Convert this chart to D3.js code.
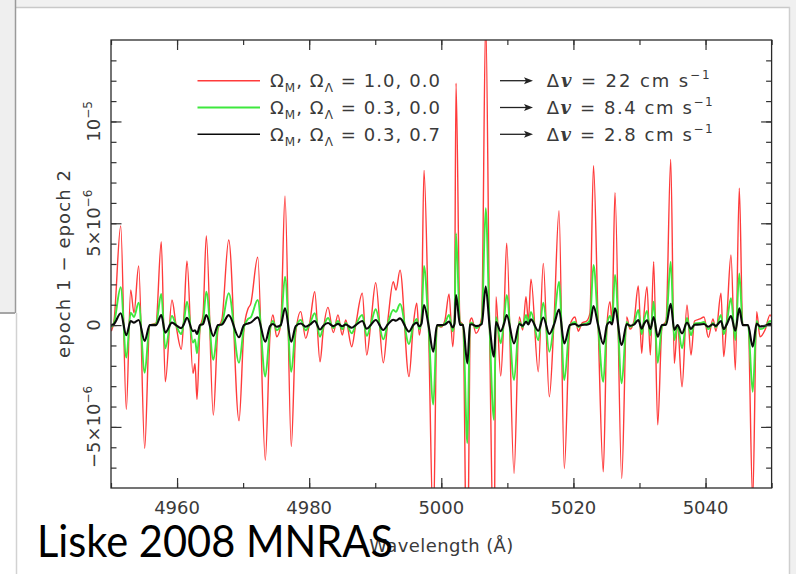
<!DOCTYPE html>
<html><head><meta charset="utf-8">
<script src="https://cdn.jsdelivr.net/npm/d3@7"></script>
<style>html,body{margin:0;padding:0;background:#fff;} svg{display:block;} text{white-space:pre;}</style>
</head><body>
<svg id="c" width="796" height="574"></svg>
<script>
// ---- data (values in units of 1e-6) ----
const wavelength = [4950.05,4950.45,4951.47,4952.32,4952.98,4953.48,4954.19,4955.10,4955.86,4956.81,
4957.61,4958.22,4959.23,4959.84,4960.64,4961.05,4961.50,4962.41,4962.72,4963.02,
4963.47,4963.93,4964.43,4965.49,4966.20,4966.80,4967.82,4969.38,4970.13,4970.74,
4971.15,4972.21,4973.36,4974.07,4974.52,4975.08,4975.69,4976.34,4977.29,4977.96,
4978.72,4979.47,4980.12,4980.84,4981.64,4982.14,4982.85,4983.65,4984.36,4985.01,
4985.53,4986.44,4987.04,4988.04,4988.71,4989.36,4990.07,4991.22,4991.93,4992.73,
4993.14,4993.75,4995.11,4995.76,4996.28,4996.67,4997.00,4997.38,4998.06,4998.79,
4999.35,4999.95,5000.56,5001.17,5001.73,5002.00,5002.23,5002.83,5003.29,5003.94,
5004.35,5004.60,5005.25,5006.12,5006.72,5007.30,5007.98,5008.28,5008.99,5009.49,
5009.90,5011.01,5011.81,5012.32,5012.82,5013.17,5013.58,5014.68,5015.44,5016.35,
5017.06,5017.82,5018.62,5019.48,5020.24,5020.74,5021.30,5022.01,5022.51,5023.04,
5023.72,5024.52,5025.08,5025.54,5025.84,5026.29,5027.31,5028.07,5028.57,5029.17,
5029.82,5030.34,5030.68,5031.14,5031.64,5032.15,5032.76,5033.41,5034.02,5034.73,
5035.27,5035.76,5036.44,5037.19,5037.80,5038.33,5039.16,5039.77,5040.42,5041.13,
5041.58,5042.34,5042.75,5043.25,5043.85,5044.51,5045.11,5045.63,5046.43,5047.14,
5047.74,5048.24,5049.00,5049.76,5050.00];
const redValues = [-0.3,0.2,4.87,-4.14,1.72,0.6,2.9,-6.05,0.0,0.1,
4.1,-2.78,1.23,0.0,-1.19,0.5,3.15,-2.37,-1.9,-3.65,
-0.2,0.5,4.38,-4.42,-0.2,0.3,4.18,-4.7,-0.2,0.8,
1.04,3.33,-6.63,-0.5,0.5,-0.57,0.0,6.34,-5.97,-0.4,
0.66,-0.65,0.2,1.64,-1.8,-0.24,0.87,-0.37,0.5,-0.49,
0.25,-1.06,0.0,1.56,-1.47,0.2,2.08,-1.85,0.3,2.13,
1.72,2.7,-2.53,0.0,1.07,-0.49,0.5,7.6,0.0,-10.0,
0.0,-0.1,0.25,1.53,-1.06,0.5,11.88,0.2,0.0,-15.0,
0.2,0.35,-0.4,0.4,15.0,0.0,-12.0,1.4,-2.5,0.5,
4.02,-7.28,0.4,-0.24,1.4,0.2,2.25,-2.29,3.03,-3.52,
0.2,5.62,-7.04,0.0,0.4,-0.3,0.1,0.2,0.6,7.83,
0.3,-7.2,0.0,1.15,0.2,6.5,-7.53,0.4,-0.2,0.2,
1.92,-1.39,0.5,1.89,-1.47,3.11,-4.9,-0.1,0.2,8.14,
-1.88,0.0,-3.03,0.99,-1.47,0.2,0.3,0.4,-0.6,0.3,
-0.3,1.56,-1.55,0.5,3.44,-2.2,6.72,0.0,0.0,-8.6,
0.66,-0.57,-0.24,0.5,0.4];
const greenValues = [-0.1,0.1,1.86,-1.6,0.61,0.4,1.1,-2.34,0.0,0.05,
1.53,-1.14,0.45,0.0,-0.44,0.2,1.15,-0.86,-0.7,-1.39,
-0.1,0.2,1.64,-1.71,-0.1,0.1,1.56,-1.85,-0.1,0.3,
0.38,1.23,-2.53,-0.2,0.2,-0.25,0.0,2.38,-2.29,-0.15,
0.25,-0.25,0.08,0.58,-0.57,-0.1,0.35,-0.15,0.2,-0.2,
0.1,-0.4,0.0,0.5,-0.53,0.08,0.78,-0.7,0.1,0.74,
0.65,1.04,-0.93,0.0,0.3,-0.2,0.2,2.9,0.0,-3.9,
0.0,-0.05,0.1,0.5,-0.3,0.2,4.5,0.08,0.0,-5.8,
0.08,0.12,-0.15,0.15,5.74,0.0,-4.66,0.4,-0.9,0.2,
1.48,-2.7,0.15,-0.1,0.5,0.1,0.64,-0.75,1.1,-1.31,
0.08,2.13,-2.7,0.0,0.15,-0.1,0.04,0.08,0.25,2.95,
0.1,-2.78,0.0,0.45,0.1,2.46,-2.86,0.15,-0.08,0.08,
0.74,-0.45,0.2,0.7,-0.5,1.15,-1.85,-0.05,0.08,3.11,
-0.74,0.0,-1.14,0.35,-0.5,0.08,0.1,0.15,-0.2,0.1,
-0.1,0.5,-0.45,0.2,1.32,-0.74,2.54,0.0,0.0,-3.27,
0.2,-0.2,-0.1,0.2,0.15];
const blackValues = [0.0,0.05,0.58,-0.5,0.2,0.12,0.25,-0.78,0.0,0.0,
0.49,-0.37,0.12,0.0,-0.15,0.05,0.36,-0.3,-0.25,-0.44,
0.0,0.05,0.49,-0.54,0.0,0.03,0.49,-0.6,0.0,0.08,
0.12,0.38,-0.82,-0.05,0.05,-0.08,0.0,0.82,-0.82,-0.05,
0.08,-0.08,0.02,0.2,-0.22,-0.03,0.1,-0.05,0.06,-0.06,
0.03,-0.13,0.0,0.2,-0.18,0.02,0.25,-0.24,0.04,0.26,
0.22,0.33,-0.32,0.0,0.12,-0.06,0.06,0.99,0.0,-1.31,
0.0,0.0,0.03,0.18,-0.12,0.06,1.48,0.02,0.0,-1.88,
0.02,0.04,-0.05,0.05,1.89,0.0,-1.55,0.15,-0.3,0.06,
0.49,-0.9,0.05,-0.03,0.17,0.03,0.28,-0.28,0.37,-0.43,
0.02,0.76,-0.9,0.0,0.05,-0.04,0.01,0.02,0.07,0.93,
0.03,-0.93,0.0,0.15,0.03,0.82,-0.98,0.05,-0.03,0.02,
0.25,-0.18,0.06,0.24,-0.19,0.4,-0.57,0.0,0.02,1.04,
-0.24,0.0,-0.41,0.13,-0.19,0.02,0.03,0.05,-0.08,0.04,
-0.04,0.2,-0.2,0.06,0.45,-0.28,0.82,0.0,0.0,-1.06,
0.08,-0.07,-0.03,0.06,0.05];

const xTickValues = [4960, 4980, 5000, 5020, 5040];
const yTickValues = [-5, 0, 5, 10];
const yTickBase = ["\u22125\u00d710", "0", "5\u00d710", "10"];
const yTickSup = ["\u22126", "", "\u22126", "\u22125"];
const omegaM = ["1.0", "0.3", "0.3"];
const omegaL = ["0.0", "0.0", "0.7"];
const deltaV = ["22", "8.4", "2.8"];
const seriesColors = ["#ff3b3b", "#3ee83e", "#0a0a0a"];

// ---- drawing ----
const svg = d3.select("#c");
const W = 796, H = 574;
const L = 111, R = 771.6, T = 40, B = 488;
const x = d3.scaleLinear().domain([4950, 5050]).range([L, R]);
const y = d3.scaleLinear().domain([-8, 14]).range([B, T]);

svg.append("rect").attr("width", W).attr("height", H).attr("fill", "#fff");

// window frame decorations
svg.append("rect").attr("x", 0).attr("y", 0).attr("width", W).attr("height", 7).attr("fill", "#f1f1f1");
svg.append("rect").attr("x", 0).attr("y", 0).attr("width", 15).attr("height", 313).attr("fill", "#efefef");
svg.append("rect").attr("x", 790).attr("y", 0).attr("width", 6).attr("height", H).attr("fill", "#f0f0f0");
svg.append("line").attr("x1", 15).attr("x2", 790).attr("y1", 7.5).attr("y2", 7.5).attr("stroke", "#c9c9c9").attr("stroke-width", 1.5);
svg.append("line").attr("x1", 15.5).attr("x2", 15.5).attr("y1", 0).attr("y2", 313).attr("stroke", "#9a9a9a").attr("stroke-width", 1.5);
svg.append("line").attr("x1", 16.5).attr("x2", 16.5).attr("y1", 313).attr("y2", H).attr("stroke", "#d2d2d2").attr("stroke-width", 1.5);
svg.append("line").attr("x1", 0).attr("x2", 15).attr("y1", 313).attr("y2", 313).attr("stroke", "#a5a5a5").attr("stroke-width", 2);
svg.append("line").attr("x1", 789.5).attr("x2", 789.5).attr("y1", 7).attr("y2", H).attr("stroke", "#cfcfcf").attr("stroke-width", 1.5);

// clip
svg.append("clipPath").attr("id", "clip").append("rect")
  .attr("x", L).attr("y", T).attr("width", R - L).attr("height", B - T);

const seriesList = [redValues, greenValues, blackValues];
const widths = [1.4, 1.9, 2.1];
const line = d3.line().x((d, i) => x(wavelength[i])).y(d => y(d)).curve(d3.curveMonotoneX);
const g = svg.append("g").attr("clip-path", "url(#clip)");
seriesList.forEach((vals, k) => {
  g.append("path").attr("d", line(vals)).attr("fill", "none")
    .attr("stroke", seriesColors[k]).attr("stroke-width", widths[k]).attr("stroke-linejoin", "round");
});

// axes (inward ticks on all sides)
const tickColor = "#333";
function styleAxis(sel) {
  sel.select(".domain").remove();
  sel.selectAll(".tick line").attr("stroke", tickColor).attr("stroke-width", 1.2);
}
const xMinor = d3.range(4950, 5051, 10);
const xMajor = xTickValues;
const yMinor = d3.range(-7, 14, 1);
const yMajor = [-5, 0, 5, 10];
svg.append("g").attr("transform", `translate(0,${B})`).call(d3.axisBottom(x).tickValues(xMinor).tickSize(-5).tickFormat("")).call(styleAxis);
svg.append("g").attr("transform", `translate(0,${B})`).call(d3.axisBottom(x).tickValues(xMajor).tickSize(-10).tickFormat("")).call(styleAxis);
svg.append("g").attr("transform", `translate(0,${T})`).call(d3.axisTop(x).tickValues(xMinor).tickSize(-5).tickFormat("")).call(styleAxis);
svg.append("g").attr("transform", `translate(0,${T})`).call(d3.axisTop(x).tickValues(xMajor).tickSize(-10).tickFormat("")).call(styleAxis);
svg.append("g").attr("transform", `translate(${L},0)`).call(d3.axisLeft(y).tickValues(yMinor).tickSize(-5.5).tickFormat("")).call(styleAxis);
svg.append("g").attr("transform", `translate(${L},0)`).call(d3.axisLeft(y).tickValues(yMajor).tickSize(-10.5).tickFormat("")).call(styleAxis);
svg.append("g").attr("transform", `translate(${R},0)`).call(d3.axisRight(y).tickValues(yMinor).tickSize(-5.5).tickFormat("")).call(styleAxis);
svg.append("g").attr("transform", `translate(${R},0)`).call(d3.axisRight(y).tickValues(yMajor).tickSize(-10.5).tickFormat("")).call(styleAxis);

svg.append("rect").attr("x", L).attr("y", T).attr("width", R - L).attr("height", B - T)
  .attr("fill", "none").attr("stroke", "#2a2a2a").attr("stroke-width", 1.3);

const FONT = "DejaVu Sans";
const txtColor = "#3a3a3a";
// x tick labels
svg.selectAll("text.xt").data(xTickValues).enter().append("text").attr("class", "xt")
  .attr("x", d => x(d)).attr("y", 513.5).attr("text-anchor", "middle")
  .attr("font-family", FONT).attr("font-size", 18).attr("fill", txtColor)
  .text(d => d);

// y tick labels (rotated)
yTickValues.forEach((v, i) => {
  const t = svg.append("text").attr("transform", `translate(100,${y(v)}) rotate(-90)`)
    .attr("text-anchor", "middle").attr("font-family", FONT).attr("font-size", 18).attr("fill", txtColor);
  t.append("tspan").text(yTickBase[i]);
  if (yTickSup[i]) t.append("tspan").attr("dy", -8).attr("font-size", 12).text(yTickSup[i]);
});

// axis titles
svg.append("text").attr("transform", `translate(70,${(T + B) / 2}) rotate(-90)`)
  .attr("text-anchor", "middle").attr("font-family", FONT).attr("font-size", 18).attr("fill", txtColor)
  .attr("textLength", 188).attr("lengthAdjust", "spacing")
  .text("epoch 1 \u2212 epoch 2");
svg.append("text").attr("x", (L + R) / 2).attr("y", 552).attr("text-anchor", "middle")
  .attr("font-family", FONT).attr("font-size", 18).attr("fill", txtColor)
  .attr("textLength", 144).attr("lengthAdjust", "spacing")
  .text("Wavelength (\u00c5)");

// legend
const rowY = [80.7, 107.5, 134.3];
omegaM.forEach((m, i) => {
  const ly = rowY[i];
  svg.append("line").attr("x1", 197.5).attr("x2", 260).attr("y1", ly).attr("y2", ly)
    .attr("stroke", seriesColors[i]).attr("stroke-width", i === 0 ? 1.5 : (i === 1 ? 1.9 : 1.6));
  const t = svg.append("text").attr("x", 270).attr("y", ly + 6.2)
    .attr("font-family", FONT).attr("font-size", 18).attr("fill", txtColor)
    .attr("textLength", 170).attr("lengthAdjust", "spacing");
  t.append("tspan").text("\u03a9");
  t.append("tspan").attr("dy", 5).attr("font-size", 12).text("M");
  t.append("tspan").attr("dy", -5).text(", \u03a9");
  t.append("tspan").attr("dy", 5).attr("font-size", 12).text("\u039b");
  t.append("tspan").attr("dy", -5).text(" = " + m + ", " + omegaL[i]);

  // arrow
  svg.append("line").attr("x1", 500).attr("x2", 526).attr("y1", ly).attr("y2", ly)
    .attr("stroke", "#222").attr("stroke-width", 1.3);
  svg.append("path").attr("d", `M533,${ly} L524,${ly - 3.5} L526,${ly} L524,${ly + 3.5} Z`).attr("fill", "#222");

  const t2 = svg.append("text").attr("x", 546.7).attr("y", ly + 6.2)
    .attr("font-family", FONT).attr("font-size", 18).attr("fill", txtColor)
    .attr("textLength", deltaV[i].length === 2 ? 163 : 166).attr("lengthAdjust", "spacing");
  t2.append("tspan").text("\u0394");
  t2.append("tspan").attr("font-family", "DejaVu Serif").attr("font-style", "italic").attr("font-weight", "bold").text("v");
  t2.append("tspan").text(" = " + deltaV[i] + " cm s");
  t2.append("tspan").attr("dy", -8).attr("font-size", 12).text("\u22121");
});

// slide caption
svg.append("text").attr("x", 37).attr("y", 557).attr("font-family", "Lato").attr("font-size", 44)
  .attr("fill", "#000").attr("textLength", 356).attr("lengthAdjust", "spacingAndGlyphs")
  .text("Liske 2008 MNRAS");
</script>
</body></html>
